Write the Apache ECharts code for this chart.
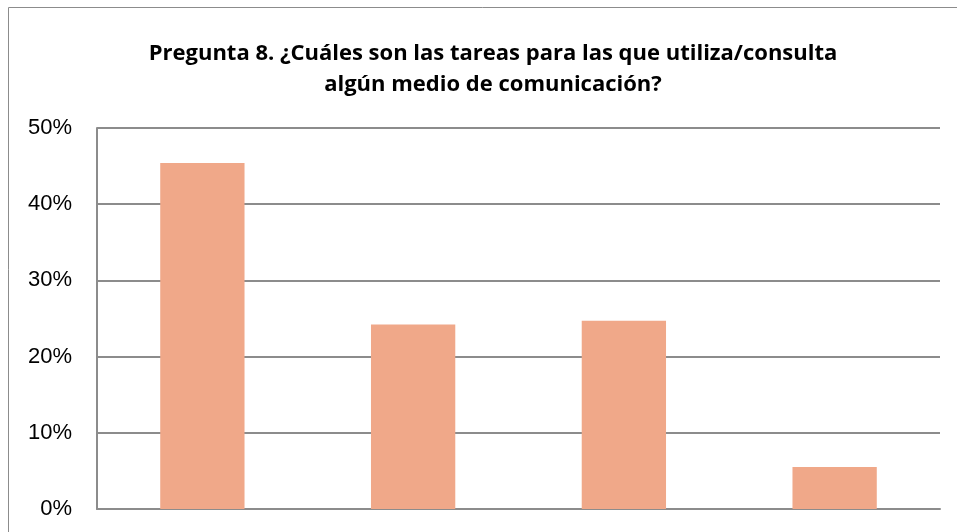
<!DOCTYPE html>
<html>
<head>
<meta charset="utf-8">
<script src="https://cdn.jsdelivr.net/npm/echarts@6/dist/echarts.min.js"></script>
<style>
  html, body { margin: 0; padding: 0; background: #fff; }
  #main { width: 957px; height: 532px; }
</style>
</head>
<body>
<div id="main"></div>
<script>
// categorías (las etiquetas quedan fuera del recorte de la imagen)
var categories = ["Tarea 1", "Tarea 2", "Tarea 3", "Tarea 4"];
var values = [45.4, 24.2, 24.7, 5.5];
var titleText = "Pregunta 8. ¿Cuáles son las tareas para las que utiliza/consulta\nalgún medio de comunicación?";

var myChart = echarts.init(document.getElementById("main"));
var option = {
  animation: false,
  title: {
    text: titleText,
    left: 488,
    top: 33,
    textAlign: "center",
    textStyle: {
      fontFamily: "Open Sans",
      fontWeight: "bold",
      fontSize: 22,
      lineHeight: 31,
      color: "#000"
    }
  },
  graphic: [
    {
      type: "polyline",
      shape: { points: [[8.5, 532], [8.5, 7.5], [957, 7.5]] },
      style: { stroke: "#8c8c8c", lineWidth: 1, fill: null }
    }
  ],
  grid: {
    left: 97,
    right: 17,
    top: 128,
    bottom: 23
  },
  xAxis: {
    type: "category",
    data: categories,
    axisLine: { lineStyle: { color: "#8c8c8c", width: 2 } },
    axisTick: { show: false },
    axisLabel: { show: false }
  },
  yAxis: {
    type: "value",
    min: 0,
    max: 50,
    interval: 10,
    axisLine: { show: true, lineStyle: { color: "#8c8c8c", width: 2 } },
    axisTick: { show: false },
    splitLine: { lineStyle: { color: "#8c8c8c", width: 2 } },
    axisLabel: {
      formatter: "{value}%",
      fontFamily: "Liberation Sans",
      fontSize: 22,
      color: "#000",
      margin: 25
    }
  },
  series: [
    {
      type: "bar",
      data: values,
      barWidth: "40%",
      itemStyle: { color: "#F0A889" }
    }
  ]
};
myChart.setOption(option);
</script>
</body>
</html>
